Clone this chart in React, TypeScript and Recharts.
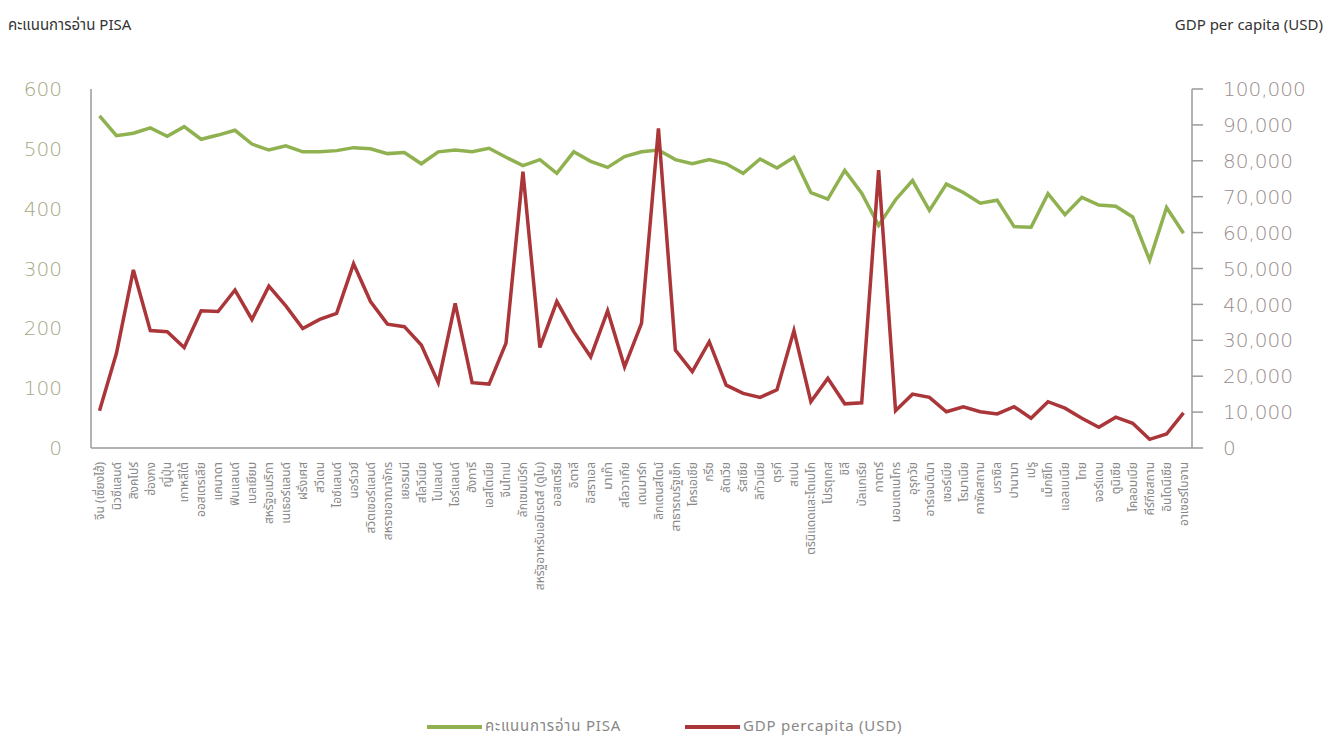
import { LineChart, Line, XAxis, YAxis } from 'recharts'

const countries = [
  'จีน (เซี่ยงไฮ้)', 'นิวซีแลนด์', 'สิงคโปร์', 'ฮ่องกง', 'ญี่ปุ่น', 'เกาหลีใต้', 'ออสเตรเลีย', 'แคนาดา',
  'ฟินแลนด์', 'เบลเยียม', 'สหรัฐอเมริกา', 'เนเธอร์แลนด์', 'ฝรั่งเศส', 'สวีเดน', 'ไอซ์แลนด์', 'นอร์เวย์',
  'สวิตเซอร์แลนด์', 'สหราชอาณาจักร', 'เยอรมนี', 'สโลวีเนีย', 'โปแลนด์', 'ไอร์แลนด์', 'ฮังการี', 'เอสโตเนีย',
  'จีนไทเป', 'ลักเซมเบิร์ก', 'สหรัฐอาหรับเอมิเรตส์ (ดูไบ)', 'ออสเตรีย', 'อิตาลี', 'อิสราเอล', 'มาเก๊า', 'สโลวาเกีย',
  'เดนมาร์ก', 'ลิกเตนสไตน์', 'สาธารณรัฐเช็ก', 'โครเอเชีย', 'กรีซ', 'ลัตเวีย', 'รัสเซีย', 'ลิทัวเนีย',
  'ตุรกี', 'สเปน', 'ตรินิแดดและโตเบโก', 'โปรตุเกส', 'ชิลี', 'บัลแกเรีย', 'กาตาร์', 'มอนเตเนโกร',
  'อุรุกวัย', 'อาร์เจนตินา', 'เซอร์เบีย', 'โรมาเนีย', 'คาซัคสถาน', 'บราซิล', 'ปานามา', 'เปรู',
  'เม็กซิโก', 'แอลเบเนีย', 'ไทย', 'จอร์แดน', 'ตูนิเซีย', 'โคลอมเบีย', 'คีร์กีซสถาน', 'อินโดนีเซีย',
  'อาเซอร์ไบจาน',
]

const pisaReading = [
  555, 522, 526, 535, 521, 537, 516, 523, 531, 508, 498, 505, 495, 495, 497, 502,
  500, 492, 494, 475, 495, 498, 495, 501, 486, 472, 482, 459, 495, 479, 469, 487,
  495, 498, 482, 475, 482, 475, 459, 483, 468, 486, 427, 416, 464, 426, 372, 415,
  447, 397, 441, 427, 409, 414, 370, 369, 425, 390, 419, 406, 404, 386, 314, 402,
  359,
]

const gdpPerCapita = [
  10400, 26400, 49600, 32700, 32400, 28000, 38200, 38000, 44000, 35800, 45100, 39600, 33300, 35800, 37500, 51300,
  40800, 34500, 33800, 28700, 18200, 40300, 18200, 17800, 29200, 77000, 28000, 40800, 32400, 25400, 38200, 22600,
  34700, 89000, 27300, 21300, 29600, 17500, 15200, 14100, 16200, 32700, 12900, 19400, 12300, 12600, 77400, 10400,
  15000, 14100, 10100, 11500, 10100, 9500, 11500, 8300, 12900, 11100, 8300, 5800, 8600, 6900, 2400, 3900,
  9800,
]

const leftTicks = [0, 100, 200, 300, 400, 500, 600]
const rightTicks = [0, 10000, 20000, 30000, 40000, 50000, 60000, 70000, 80000, 90000, 100000]

const data = countries.map((c, i) => ({ country: c, pisa: pisaReading[i], gdp: gdpPerCapita[i] }))

const GREEN = '#8fb14f'
const RED = '#aa363a'
const thaiFont = "'Noto Sans Thai', 'Noto Sans', 'DejaVu Sans', sans-serif"

function CountryTick({ x, y, payload }: { x?: number; y?: number; payload?: { value: string } }) {
  return (
    <g transform={`translate(${x},${y})`}>
      <text
        transform="rotate(-90)"
        x={-6}
        dy="0.35em"
        textAnchor="end"
        fontSize={12}
        fill="#888"
        fontFamily={thaiFont}
      >
        {payload?.value}
      </text>
    </g>
  )
}

function LegendItem({ color, label, width }: { color: string; label: string; width: number }) {
  return (
    <span style={{ display: 'inline-flex', alignItems: 'center', width }}>
      <span style={{ display: 'inline-block', width: 55, height: 4, background: color, marginRight: 3 }} />
      <span>{label}</span>
    </span>
  )
}

export default function App() {
  return (
    <div style={{ position: 'relative', width: 1318, height: 731, fontFamily: thaiFont }}>
      <div style={{ position: 'absolute', left: 0, top: 6, fontSize: 15, color: '#333' }}>
        คะแนนการอ่าน PISA
      </div>
      <div style={{ position: 'absolute', right: 3, top: 6, fontSize: 15, color: '#333' }}>
        GDP per capita (USD)
      </div>

      <LineChart
        width={1318}
        height={700}
        data={data}
        margin={{ top: 81, right: 14, left: 23, bottom: 60 }}
      >
        <XAxis
          dataKey="country"
          interval={0}
          height={200}
          padding={{ left: 8.5, right: 8.5 }}
          tick={<CountryTick />}
          tickLine={false}
          axisLine={{ stroke: '#9a9a9a', strokeWidth: 1.5 }}
        />
        <YAxis
          yAxisId="left"
          orientation="left"
          width={60}
          domain={[0, 600]}
          ticks={leftTicks}
          tickLine={false}
          tickSize={0}
          tickMargin={29}
          axisLine={{ stroke: '#9a9a9a', strokeWidth: 1.5 }}
          tick={{ fontSize: 20, fill: '#a6a883', fontFamily: 'DejaVu Sans', fontWeight: 200 }}
        />
        <YAxis
          yAxisId="right"
          orientation="right"
          width={120}
          domain={[0, 100000]}
          ticks={rightTicks}
          tickSize={11}
          tickMargin={20}
          tickLine={{ stroke: '#9a9a9a', strokeWidth: 1.5 }}
          axisLine={{ stroke: '#9a9a9a', strokeWidth: 1.5 }}
          tickFormatter={(v: number) => v.toLocaleString('en-US')}
          tick={{ fontSize: 20, fill: '#9a8d8b', fontFamily: 'DejaVu Sans', fontWeight: 200, textAnchor: 'start' }}
        />
        <Line
          yAxisId="left"
          dataKey="pisa"
          stroke={GREEN}
          strokeWidth={3.5}
          dot={false}
          isAnimationActive={false}
        />
        <Line
          yAxisId="right"
          dataKey="gdp"
          stroke={RED}
          strokeWidth={3.5}
          dot={false}
          isAnimationActive={false}
        />
      </LineChart>

      <div
        style={{
          position: 'absolute',
          left: 419,
          top: 707,
          fontSize: 15,
          letterSpacing: 0.8,
          lineHeight: '20px',
          color: '#888',
          whiteSpace: 'nowrap',
        }}
      >
        <LegendItem color={GREEN} label="คะแนนการอ่าน PISA" width={258} />
        <LegendItem color={RED} label="GDP percapita (USD)" width={240} />
      </div>
    </div>
  )
}
